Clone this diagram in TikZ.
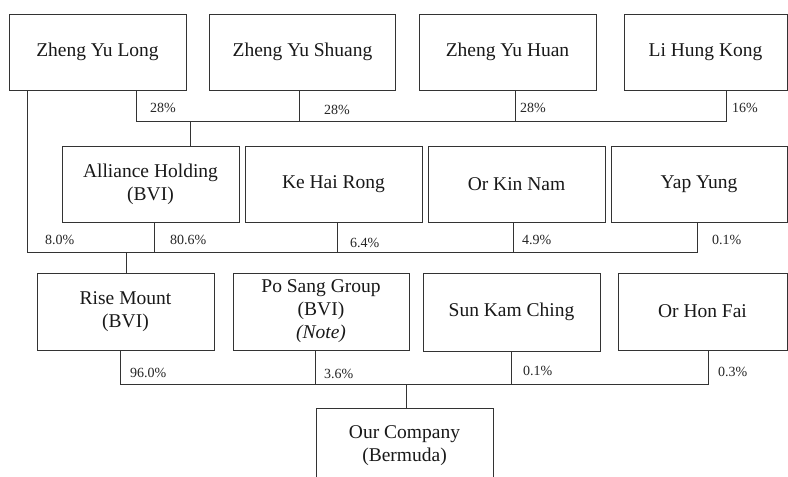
\documentclass[tikz,border=0pt]{standalone}
\usepackage{fontspec}
\setmainfont{Liberation Serif}
\begin{document}
\begin{tikzpicture}[x=1pt,y=-1pt,
  ln/.style={draw=black!80, line width=0.9pt},
  box/.style={ln, rectangle, inner sep=0pt, align=center, text=black!90,
    font=\fontsize{19.5}{23}\selectfont, minimum height=76pt},
  pct/.style={anchor=west, inner sep=0pt, text=black!85, font=\fontsize{14}{16}\selectfont}]
\clip (0,0) rectangle (788,477);
\fill[white] (0,0) rectangle (788,477);
% row 1
\node[box, minimum width=177pt] (zyl) at (97.5,52) {Zheng Yu Long};
\node[box, minimum width=186pt] (zys) at (302.5,52) {Zheng Yu Shuang};
\node[box, minimum width=177pt] (zyh) at (507.5,52) {Zheng Yu Huan};
\node[box, minimum width=163pt] (lhk) at (705.5,52) {Li Hung Kong};
% row 2
\node[box, minimum width=177pt] (ah) at (150.5,184) {Alliance Holding\\(BVI)};
\node[box, minimum width=177pt] (khr) at (333.5,184) {Ke Hai Rong};
\node[box, minimum width=177pt] (okn) at (516.5,184) {Or Kin Nam};
\node[box, minimum width=176pt] (yy) at (699,184) {Yap Yung};
% row 3
\node[box, minimum width=177pt, minimum height=77pt] (rm) at (125.5,311.5) {Rise Mount\\(BVI)};
\node[box, minimum width=176pt, minimum height=77pt] (ps) at (321,311.5) {Po Sang Group\\(BVI)\\\textit{(Note)}};
\node[box, minimum width=177pt, minimum height=78pt] (skc) at (511.5,312) {Sun Kam Ching};
\node[box, minimum width=169pt, minimum height=77pt] (ohf) at (702.5,311.5) {Or Hon Fai};
% bottom
\node[box, minimum width=177pt] (oc) at (404.5,446) {Our Company\\(Bermuda)};
% bus 1
\coordinate (a1) at (136,121);
\coordinate (a2) at (299,121);
\coordinate (a3) at (515,121);
\coordinate (a4) at (726,121);
\coordinate (ad) at (190,121);
\draw[ln] (zyl.south -| a1) -- (a1) -- (a4) -- (lhk.south -| a4);
\draw[ln] (zys.south -| a2) -- (a2);
\draw[ln] (zyh.south -| a3) -- (a3);
\draw[ln] (ad) -- (ah.north -| ad);
\node[pct] (p11) at (150,108) {28\%};
\node[pct] (p12) at (324,110) {28\%};
\node[pct] (p13) at (520,108) {28\%};
\node[pct] (p14) at (732,108) {16\%};
% bus 2
\coordinate (b0) at (27,252);
\coordinate (b1) at (154,252);
\coordinate (b2) at (337,252);
\coordinate (b3) at (513,252);
\coordinate (b4) at (697,252);
\coordinate (bd) at (126,252);
\draw[ln] (zyl.south -| b0) -- (b0) -- (b4) -- (yy.south -| b4);
\draw[ln] (ah.south -| b1) -- (b1);
\draw[ln] (khr.south -| b2) -- (b2);
\draw[ln] (okn.south -| b3) -- (b3);
\draw[ln] (bd) -- (rm.north -| bd);
\node[pct] (p20) at (45,240) {8.0\%};
\node[pct] (p21) at (170,240) {80.6\%};
\node[pct] (p22) at (350,243) {6.4\%};
\node[pct] (p23) at (522,240) {4.9\%};
\node[pct] (p24) at (712,240) {0.1\%};
% bus 3
\coordinate (c1) at (120,384);
\coordinate (c2) at (315,384);
\coordinate (c3) at (511,384);
\coordinate (c4) at (708,384);
\coordinate (cd) at (406,384);
\draw[ln] (rm.south -| c1) -- (c1) -- (c4) -- (ohf.south -| c4);
\draw[ln] (ps.south -| c2) -- (c2);
\draw[ln] (skc.south -| c3) -- (c3);
\draw[ln] (cd) -- (oc.north -| cd);
\node[pct] (p31) at (130,373) {96.0\%};
\node[pct] (p32) at (324,374) {3.6\%};
\node[pct] (p33) at (523,371) {0.1\%};
\node[pct] (p34) at (718,372) {0.3\%};
\end{tikzpicture}
\end{document}
